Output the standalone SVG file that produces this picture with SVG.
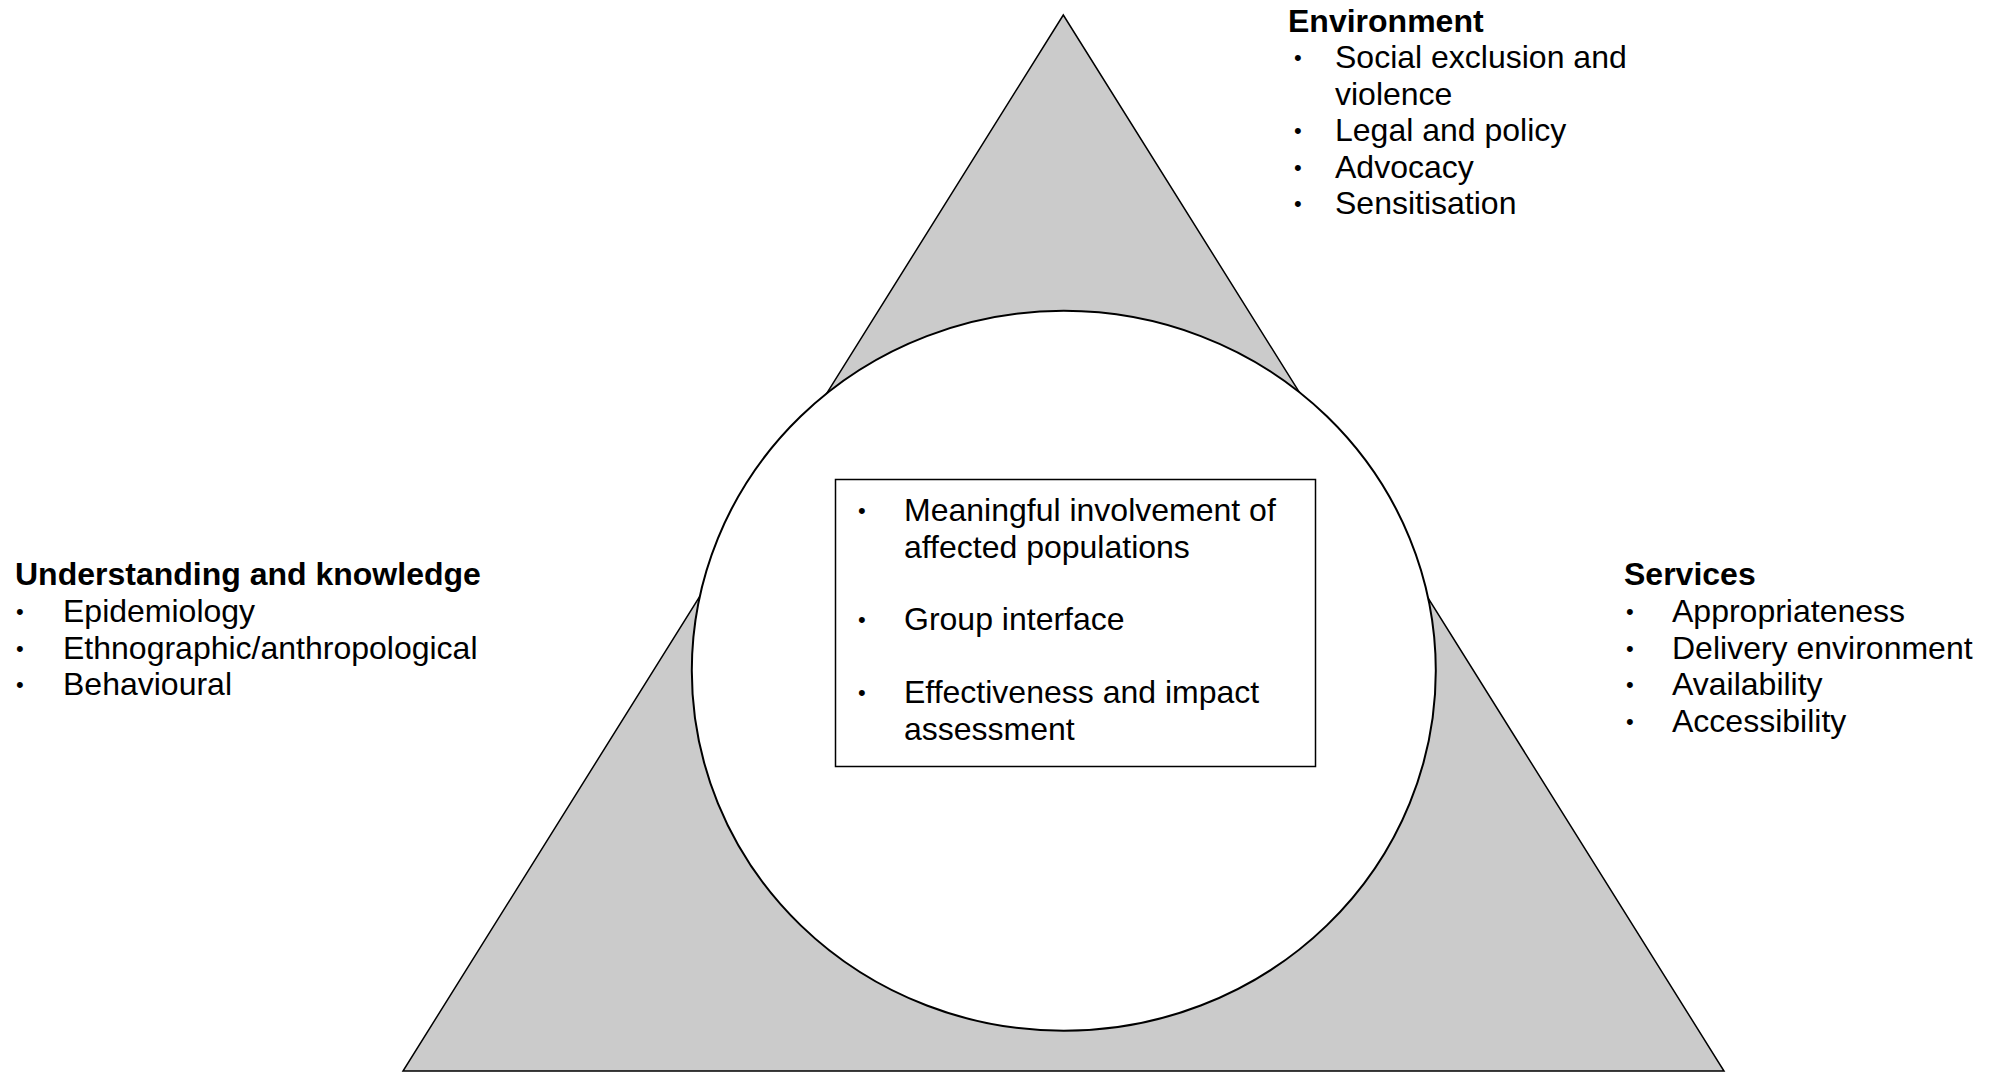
<svg xmlns="http://www.w3.org/2000/svg" width="2000" height="1072" viewBox="0 0 2000 1072">
<style>
text{font-family:"Liberation Sans",Arial,sans-serif;font-size:32px;fill:#000}
.h{font-weight:bold}
.b{font-size:22px}
</style>
<rect width="2000" height="1072" fill="#fff"/>
<g id="triangle">
<polygon points="1063.3,15 403,1071 1724,1071" fill="#cbcbcb" stroke="#000" stroke-width="1.5" stroke-linejoin="miter"/>
</g>
<g id="circle">
<ellipse cx="1063.8" cy="670.8" rx="372" ry="360" fill="#fff" stroke="#000" stroke-width="2"/>
</g>
<g id="connectors"></g>
<g id="center-box">
<rect x="835.5" y="479.5" width="480" height="287" fill="#fff" stroke="#000" stroke-width="1.5"/>
<text class="b" x="858" y="518">•</text>
<text x="904" y="521">Meaningful involvement of</text>
<text x="904" y="557.5">affected populations</text>
<text class="b" x="858" y="627">•</text>
<text x="904" y="630">Group interface</text>
<text class="b" x="858" y="700">•</text>
<text x="904" y="703">Effectiveness and impact</text>
<text x="904" y="739.5">assessment</text>
</g>
<g id="environment">
<text class="h" x="1288" y="31.5">Environment</text>
<text class="b" x="1294" y="65">•</text>
<text x="1335" y="68">Social exclusion and</text>
<text x="1335" y="104.5">violence</text>
<text class="b" x="1294" y="138">•</text>
<text x="1335" y="141">Legal and policy</text>
<text class="b" x="1294" y="174.5">•</text>
<text x="1335" y="177.5">Advocacy</text>
<text class="b" x="1294" y="211">•</text>
<text x="1335" y="214">Sensitisation</text>
</g>
<g id="understanding">
<text class="h" x="15" y="585">Understanding and knowledge</text>
<text class="b" x="16" y="619">•</text>
<text x="63" y="622">Epidemiology</text>
<text class="b" x="16" y="655.5">•</text>
<text x="63" y="658.5">Ethnographic/anthropological</text>
<text class="b" x="16" y="692">•</text>
<text x="63" y="695">Behavioural</text>
</g>
<g id="services">
<text class="h" x="1624" y="585">Services</text>
<text class="b" x="1626" y="619">•</text>
<text x="1672" y="622">Appropriateness</text>
<text class="b" x="1626" y="655.5">•</text>
<text x="1672" y="658.5">Delivery environment</text>
<text class="b" x="1626" y="692">•</text>
<text x="1672" y="695">Availability</text>
<text class="b" x="1626" y="728.5">•</text>
<text x="1672" y="731.5">Accessibility</text>
</g>
</svg>
